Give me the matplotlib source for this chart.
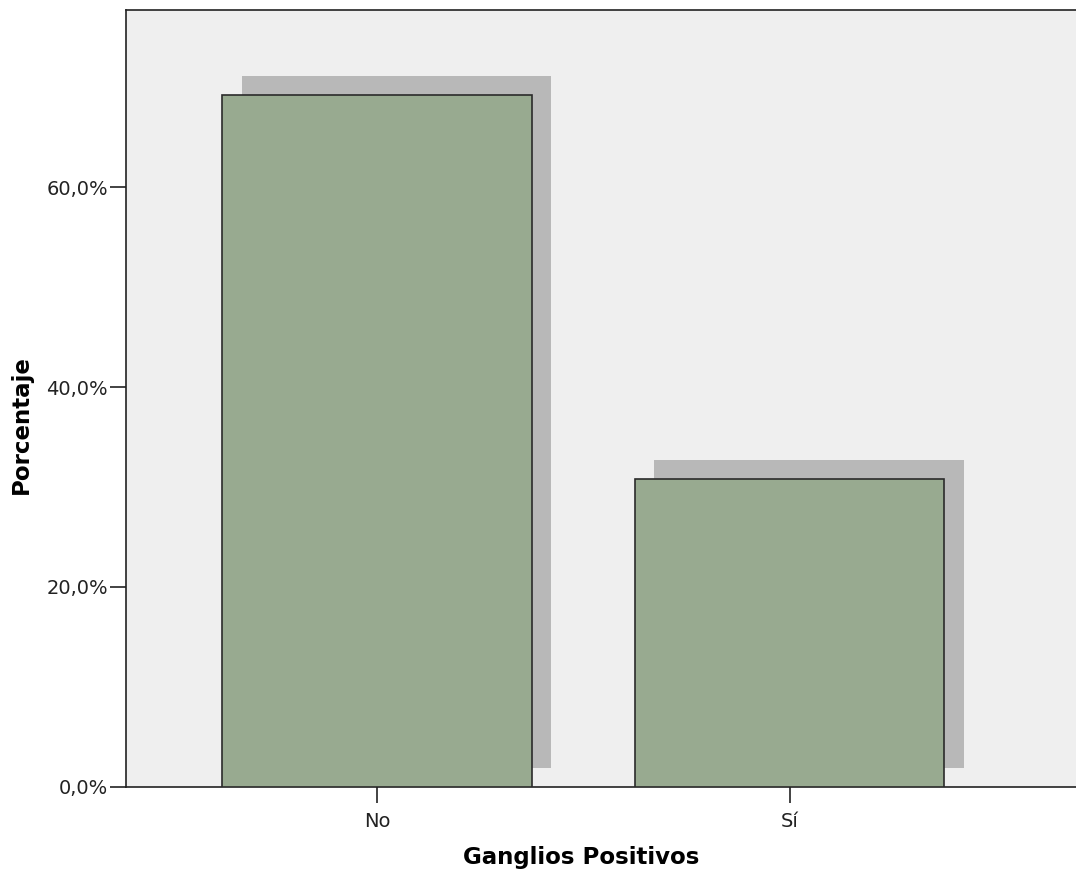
import matplotlib.pyplot as plt
from matplotlib.ticker import FuncFormatter

# Porcentaje de pacientes según ganglios positivos
categorias = ["No", "Sí"]
porcentajes = [69.2, 30.8]

plt.rcParams["font.family"] = ["DejaVu Sans"]

fig = plt.figure(figsize=(10.76, 8.72), dpi=100)
ax = fig.add_axes([126 / 1076, 1 - 787 / 872, 1 - 126 / 1076 + 0.01, (787 - 10) / 872])
ax.set_facecolor("#efefef")

x = list(range(len(categorias)))
ancho = 0.75
# sombra desplazada hacia arriba y a la derecha
dx, dy = 0.047, 1.9
ax.bar([i + dx for i in x], porcentajes, width=ancho, bottom=dy,
       color="#b8b8b8", edgecolor="none", zorder=2)
ax.bar(x, porcentajes, width=ancho, color="#98aa90",
       edgecolor="#2b2b2b", linewidth=1.2, zorder=3)

ax.set_xlim(-0.608, 1.72)
ax.set_ylim(0, 77.7)
ax.set_yticks([0, 20, 40, 60])
ax.yaxis.set_major_formatter(FuncFormatter(lambda v, p: f"{v:.1f}%".replace(".", ",")))
ax.set_xticks(x)
ax.set_xticklabels(categorias)

ax.tick_params(axis="both", labelsize=14, color="#222222", labelcolor="#222222",
               length=11.5, width=1.2)
ax.tick_params(axis="y", pad=1.5)
ax.tick_params(axis="x", pad=6.5)
for s in ax.spines.values():
    s.set_color("#222222")
    s.set_linewidth(1.2)

ax.set_xlabel("Ganglios Positivos", fontsize=16.5, fontweight="bold")
ax.set_ylabel("Porcentaje", fontsize=16.5, fontweight="bold")
ax.xaxis.set_label_coords(0.4736, -0.0759)
ax.yaxis.set_label_coords(-0.0968, 0.467)

fig.savefig("out.png", dpi=100)
